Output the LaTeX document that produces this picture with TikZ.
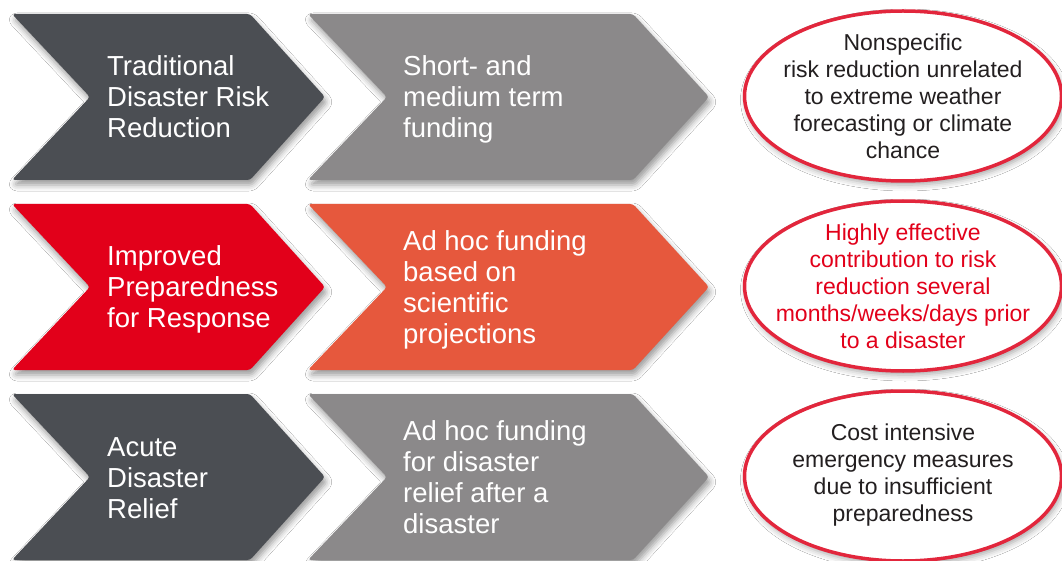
\documentclass[tikz,border=0pt]{standalone}
\usepackage{fontspec}
\setmainfont{Liberation Sans}
\usetikzlibrary{shapes.geometric,shadows.blur}
\definecolor{dgray}{RGB}{75,78,83}
\definecolor{mgray}{RGB}{139,137,138}
\definecolor{cred}{RGB}{226,0,26}
\definecolor{corange}{RGB}{230,88,61}
\definecolor{ovalred}{RGB}{226,38,60}
\definecolor{txtdark}{RGB}{35,31,32}
\tikzset{
  chev/.style={fill=#1, draw=none, rounded corners=3pt,
    blur shadow={shadow xshift=2pt, shadow yshift=-5pt, shadow blur radius=6pt, shadow opacity=40}},
  ctext/.style={text=white, font=\fontsize{27.5}{31}\selectfont, align=left,
    anchor=west, inner sep=0pt, text depth=0pt},
  oval/.style={ellipse, draw=ovalred, line width=3.5pt, fill=white,
    minimum width=317pt, minimum height=170pt, inner sep=0pt,
    blur shadow={shadow xshift=2pt, shadow yshift=-4pt, shadow blur radius=6pt, shadow opacity=35}},
  otext/.style={align=center, inner sep=0pt, text depth=0pt, font=\fontsize{23}{27}\selectfont},
}
\begin{document}
\begin{tikzpicture}[x=1pt,y=-1pt]
\fill[white] (0,0) rectangle (1062,561);
\useasboundingbox (0,0) rectangle (1062,561);
% row 1
\path[chev=dgray] (12,14) -- (250,14) -- (325,97) -- (250,180) -- (12,180) -- (90,97) -- cycle;
\path[chev=mgray] (308,14) -- (633,14) -- (709,97) -- (633,180) -- (308,180) -- (387,97) -- cycle;
% row 2
\path[chev=cred] (12,204) -- (250,204) -- (325,287) -- (250,370) -- (12,370) -- (90,287) -- cycle;
\path[chev=corange] (308,204) -- (633,204) -- (709,287) -- (633,370) -- (308,370) -- (387,287) -- cycle;
% row 3
\path[chev=dgray] (12,394) -- (250,394) -- (325,477) -- (250,560) -- (12,560) -- (90,477) -- cycle;
\path[chev=mgray] (308,394) -- (633,394) -- (709,477) -- (633,560) -- (308,560) -- (387,477) -- cycle;

\node[ctext] (a1) at (107,97) {Traditional\\Disaster Risk\\Reduction};
\node[ctext] (b1) at (403,97) {Short- and\\medium term\\funding};
\node[ctext] (a2) at (107,287) {Improved\\Preparedness\\for Response};
\node[ctext] (b2) at (403,287) {Ad hoc funding\\based on\\scientific\\projections};
\node[ctext] (a3) at (107,478) {Acute\\Disaster\\Relief};
\node[ctext] (b3) at (403,477) {Ad hoc funding\\for disaster\\relief after a\\disaster};

\node[oval] (e1) at (903,96) {};
\node[oval] (e2) at (903,286) {};
\node[oval] (e3) at (903,476) {};
\node[otext, text=txtdark] (t1) at (e1.center) {Nonspecific\\risk reduction unrelated\\to extreme weather\\forecasting or climate\\chance};
\node[otext, text=cred] (t2) at (e2.center) {Highly effective\\contribution to risk\\reduction several\\months/weeks/days prior\\to a disaster};
\node[otext, text=txtdark] (t3) at ([yshift=3pt]e3.center) {Cost intensive\\emergency measures\\due to insufficient\\preparedness};
\end{tikzpicture}
\end{document}
